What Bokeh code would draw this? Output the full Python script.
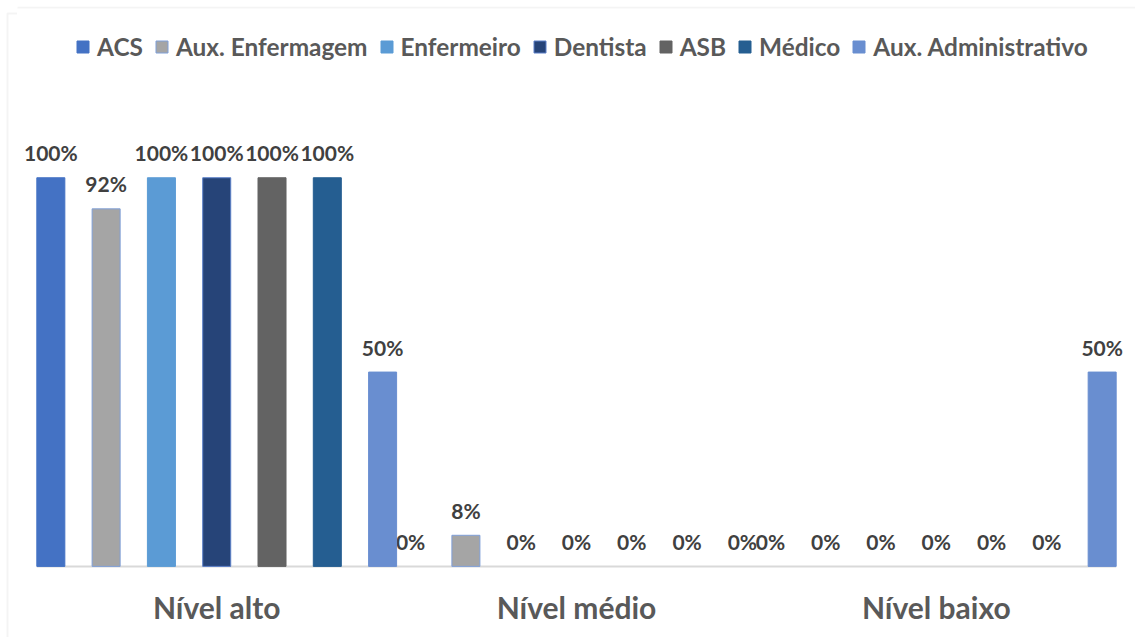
from bokeh.plotting import figure
from bokeh.models import FactorRange, Range1d, ColumnDataSource, Legend, LegendItem, BoxAnnotation
from bokeh.layouts import row
from bokeh.core.properties import value
from bokeh.embed import file_html
from bokeh.resources import INLINE

categories = ["Nível alto", "Nível médio", "Nível baixo"]
series = ["ACS", "Aux. Enfermagem", "Enfermeiro", "Dentista", "ASB", "Médico", "Aux. Administrativo"]
acs = [100, 0, 0]
aux_enfermagem = [92, 8, 0]
enfermeiro = [100, 0, 0]
dentista = [100, 0, 0]
asb = [100, 0, 0]
medico = [100, 0, 0]
aux_administrativo = [50, 0, 50]
values_by_series = [acs, aux_enfermagem, enfermeiro, dentista, asb, medico, aux_administrativo]

colors = ["#4472C4", "#A5A5A5", "#5B9BD5", "#264478", "#636363", "#255E91", "#698ED0"]
outlines = ["#4472C4", "#7F9FD8", "#5B9BD5", "#5A7FC8", "#636363", "#255E91", "#698ED0"]

FONT = "Lato"
BORDER = "#D9D9D9"

factors = [(c, s) for c in categories for s in series]
x_range = FactorRange(*factors, factor_padding=0.974, group_padding=0.0,
                      range_padding=0.69, range_padding_units="absolute")
y_range = Range1d(-18.30, 144.07)

# thin strip on the left holding the left/top edge of the chart border (pixel-mapped ranges)
edge = figure(width=17, height=637, x_range=Range1d(0, 17), y_range=Range1d(637, 0),
              output_backend="svg", toolbar_location=None,
              x_axis_location=None, y_axis_location=None,
              min_border_left=0, min_border_right=0, min_border_top=0, min_border_bottom=0)
edge.grid.visible = False
edge.outline_line_color = None
edge.background_fill_color = "white"
edge.add_layout(BoxAnnotation(left=7, right=60, top=7, bottom=700,
                              fill_alpha=0, line_color=BORDER, line_width=2))

p = figure(width=1118, height=637, x_range=x_range, y_range=y_range,
           output_backend="svg", toolbar_location=None,
           x_axis_location=None, y_axis_location=None,
           min_border_left=0, min_border_right=0, min_border_top=6, min_border_bottom=0)
p.grid.visible = False
p.outline_line_color = None
p.add_layout(BoxAnnotation(left=-50, right=1300, top=7, bottom=900,
                           left_units="canvas", right_units="canvas",
                           top_units="canvas", bottom_units="canvas",
                           fill_alpha=0, line_color=BORDER, line_width=2))

# baseline
p.segment(x0=[(categories[0], series[0], -0.5)], x1=[(categories[-1], series[-1], 0.5)],
          y0=[0], y1=[0], line_color=BORDER, line_width=2)

legend_items = []
for name, vals, col, oc in zip(series, values_by_series, colors, outlines):
    src = ColumnDataSource(dict(x=[(c, name) for c in categories], top=vals,
                                label=[f"{v}%" for v in vals],
                                la=[1.0 if v > 0 else 0.0 for v in vals]))
    r = p.vbar(x="x", top="top", width=1.0, source=src, fill_color=col,
               line_color=oc, line_width=1, line_alpha="la")
    p.text(x="x", y="top", text="label", source=src, text_align="center",
           text_baseline="alphabetic", y_offset=-25, text_font=value(FONT),
           text_font_style="bold", text_font_size="21px", text_color="#404040")
    legend_items.append(LegendItem(label=name, renderers=[r]))

mid = series[len(series) // 2]
cat_src = ColumnDataSource(dict(x=[(c, mid) for c in categories], y=[0] * len(categories), t=categories))
p.text(x="x", y="y", text="t", source=cat_src, text_align="center", text_baseline="alphabetic",
       y_offset=41, text_font=value(FONT), text_font_style="bold", text_font_size="30px",
       text_color="#595959")

legend = Legend(items=legend_items, orientation="horizontal", location=(58, 576),
                glyph_width=15, glyph_height=15, label_standoff=7, spacing=11,
                padding=0, margin=0, border_line_color=None, background_fill_alpha=0,
                label_text_font=FONT, label_text_font_style="bold",
                label_text_font_size="24.4px", label_text_color="#595959")
p.add_layout(legend)

layout = row(edge, p, spacing=0)
open("out.html", "w").write(file_html(layout, INLINE))
